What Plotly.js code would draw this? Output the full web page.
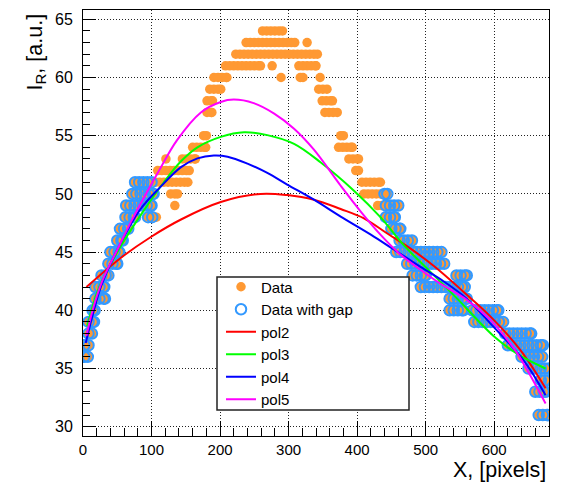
<!DOCTYPE html>
<html><head><meta charset="utf-8">
<script src="https://cdn.plot.ly/plotly-3.0.1.min.js"></script>
<style>html,body{margin:0;padding:0;background:#fff}#chart{width:569px;height:492px}</style>
</head><body><div id="chart"></div>
<script>
// Quantized profile: each run = consecutive pixels at one integer intensity level
const runLevel = [64,63,63,62,61,61,61,60,60,60,60,59,59,58,58,57,57,55,55,54,54,53,53,53,52,52,51,51,50,50,50,49,49,49,48,48,48,47,47,46,46,45,45,44,44,43,43,43,42,42,41,41,40,40,40,39,39,38,38,37,37,36,36,35,34,33,31];
const runFrom  = [262,238,327,223,208,276,315,191,289,317,346,185,344,181,349,181,353,176,376,160,373,121,145,388,109,398,76,407,72,128,410,63,134,430,62,95,442,54,450,50,462,40,457,37,473,27,481,545,18,493,18,535,14,535,568,8,571,8,616,2,620,2,640,650,668,660,665];
const runTo    = [291,309,327,342,259,276,340,210,289,321,346,201,356,189,364,188,371,180,380,179,393,121,164,402,155,402,153,434,103,138,444,100,134,460,76,107,455,66,463,58,480,53,523,50,527,37,500,560,31,557,32,560,17,555,606,16,613,13,654,8,671,7,670,680,680,675,678];
const pixelStep = 6;
const gapFrom = 105, gapTo = 438;

// Fit curves
const pol2X = [5,55,99,143,201,259,298,337,376,410,444,478,512,555,594,638,675];
const pol2Y = [42.0,44.5,46.3,47.8,49.3,50.0,49.9,49.5,48.7,47.9,46.6,45.3,43.8,41.6,39.5,36.6,33.3];
const pol3X = [6,23,55,89,118,143,167,201,235,269,308,347,395,434,468,507,546,599,638,675];
const pol3Y = [38.6,41.9,45.5,48.6,51.0,52.8,54.0,54.9,55.3,55.05,54.3,52.7,50.3,48.0,45.6,43.3,41.0,37.8,36.1,35.0];
const pol4X = [4,16,26,50,84,113,143,167,191,211,240,269,298,337,376,420,454,492,526,560,594,643,675];
const pol4Y = [37.2,40.0,42.0,45.2,48.7,50.6,52.3,53.05,53.3,53.2,52.6,51.8,50.8,49.5,48.05,46.5,45.2,43.75,42.5,41.0,38.9,35.7,32.7];
const pol5X = [5,14,28,50,70,90,110,137,172,201,220,249,279,308,337,376,405,434,463,492,521,560,594,629,648,675];
const pol5Y = [37.8,40.0,42.5,45.2,47.6,49.8,51.9,54.6,57.0,57.9,58.1,57.8,56.9,55.6,53.8,50.7,48.5,46.5,44.8,43.5,42.3,40.9,39.2,36.7,34.9,32.0];

const dataX = [], dataY = [];
for (let i = 0; i < runLevel.length; i++) {
  for (let x = runFrom[i]; x <= runTo[i]; x += pixelStep) { dataX.push(x); dataY.push(runLevel[i]); }
  if ((runTo[i] - runFrom[i]) % pixelStep !== 0) { dataX.push(runTo[i]); dataY.push(runLevel[i]); }
}
const gapX = [], gapY = [];
dataX.forEach((x, i) => { if (x < gapFrom || x > gapTo) { gapX.push(x); gapY.push(dataY[i]); } });

const FONT = 'Liberation Sans, Arial, Helvetica, sans-serif';
const traces = [
  {x: dataX, y: dataY, type: 'scatter', mode: 'markers', name: 'Data',
   marker: {symbol: 'circle', size: 9.5, color: '#ff9933', line: {width: 0}}},
  {x: gapX, y: gapY, type: 'scatter', mode: 'markers', name: 'Data with gap',
   marker: {symbol: 'circle-open', size: 10.5, color: '#3399ff', line: {width: 2, color: '#3399ff'}}},
  {x: pol2X, y: pol2Y, type: 'scatter', mode: 'lines', name: 'pol2', line: {color: '#ff0000', width: 2, shape: 'spline'}},
  {x: pol3X, y: pol3Y, type: 'scatter', mode: 'lines', name: 'pol3', line: {color: '#00ff00', width: 2, shape: 'spline'}},
  {x: pol4X, y: pol4Y, type: 'scatter', mode: 'lines', name: 'pol4', line: {color: '#0000ff', width: 2, shape: 'spline'}},
  {x: pol5X, y: pol5Y, type: 'scatter', mode: 'lines', name: 'pol5', line: {color: '#ff00ff', width: 2, shape: 'spline'}}
];

const L = 83, R = 20, T = 10, B = 56, W = 569, H = 492;
const pw = W - L - R, ph = H - T - B;
const px = v => (v - L) / pw;
const py = v => (H - B - v) / ph;

const layout = {
  width: W, height: H,
  margin: {l: L, r: R, t: T, b: B, pad: 0},
  paper_bgcolor: '#fff', plot_bgcolor: '#fff',
  font: {family: FONT, color: '#000'},
  showlegend: true,
  legend: {x: px(221), y: py(270.5), xanchor: 'left', yanchor: 'top',
           bgcolor: 'rgba(0,0,0,0)', borderwidth: 0, font: {family: FONT, size: 15, color: '#000'}},
  xaxis: {range: [0, 680], tick0: 0, dtick: 100, ticks: 'inside', ticklen: 15, tickwidth: 1, tickcolor: '#000',
          showgrid: true, gridcolor: '#222', gridwidth: 1, griddash: '1px,2px',
          minor: {dtick: 20, ticks: 'inside', ticklen: 8, tickwidth: 1, tickcolor: '#000', showgrid: false},
          showline: true, mirror: true, linecolor: '#000', linewidth: 1, zeroline: false,
          tickfont: {family: FONT, size: 15, color: '#000'}},
  yaxis: {range: [29.2, 65.8], tick0: 0, dtick: 5, ticks: 'inside', ticklen: 13, tickwidth: 1, tickcolor: '#000',
          showgrid: true, gridcolor: '#222', gridwidth: 1, griddash: '1px,2px',
          minor: {dtick: 1, ticks: 'inside', ticklen: 7, tickwidth: 1, tickcolor: '#000', showgrid: false},
          showline: true, mirror: true, linecolor: '#000', linewidth: 1, zeroline: false,
          ticklabelstandoff: 6,
          tickfont: {family: FONT, size: 16, color: '#000'}},
  shapes: [{type: 'rect', xref: 'paper', yref: 'paper', layer: 'above',
            x0: px(217), x1: px(409), y0: py(410), y1: py(277),
            fillcolor: '#fff', line: {color: '#222', width: 1.5}}],
  annotations: [
    {text: 'X, [pixels]', xref: 'paper', yref: 'paper', x: px(548), y: py(470), xanchor: 'right', yanchor: 'middle',
     showarrow: false, font: {family: FONT, size: 21.5, color: '#000'}},
    {text: 'I<sub>R</sub>, [a.u.]', xref: 'paper', yref: 'paper', x: px(36), y: py(12), xanchor: 'center', yanchor: 'top',
     textangle: -90, showarrow: false, font: {family: FONT, size: 21.5, color: '#000'}}
  ]
};

Plotly.newPlot('chart', traces, layout, {displayModeBar: false, staticPlot: true});
</script></body></html>
